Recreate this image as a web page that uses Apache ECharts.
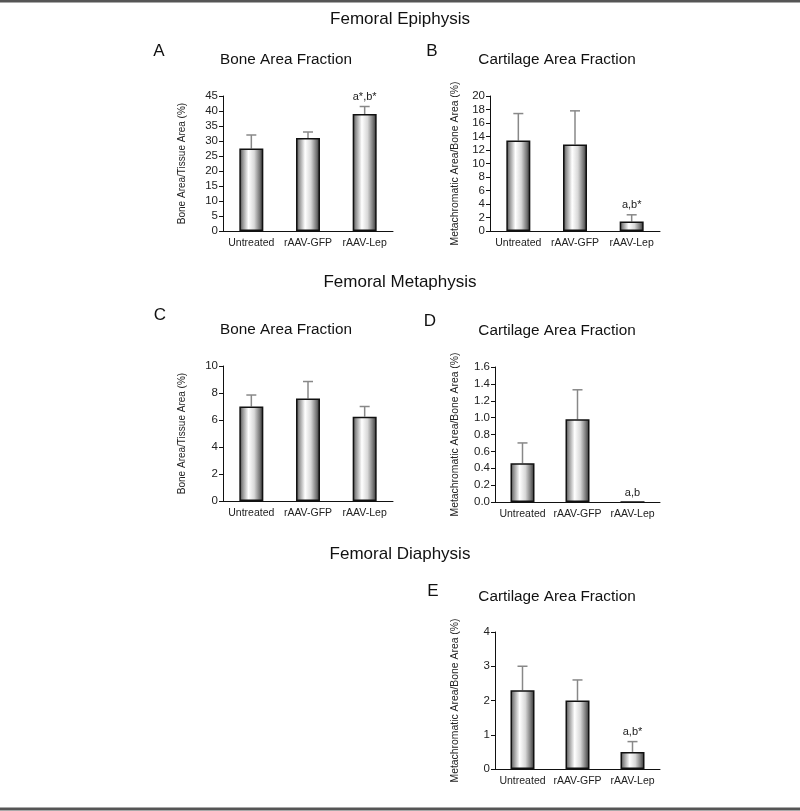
<!DOCTYPE html>
<html>
<head>
<meta charset="utf-8">
<script src="https://cdn.jsdelivr.net/npm/echarts@6/dist/echarts.min.js"></script>
<style>html,body{margin:0;padding:0;background:#fff}#c{width:800px;height:811px}</style>
</head>
<body>
<div id="c"></div>
<script>
// ---- data ----
const categories = ['Untreated', 'rAAV-GFP', 'rAAV-Lep'];

const epiBoneMean = [27.5, 31.0, 39.0];
const epiBoneErr  = [4.5, 2.0, 2.5];
const epiBoneSig  = ['', '', 'a*,b*'];

const epiCartMean = [13.4, 12.8, 1.4];
const epiCartErr  = [4.0, 5.0, 1.0];
const epiCartSig  = ['', '', 'a,b*'];

const metaBoneMean = [7.0, 7.6, 6.25];
const metaBoneErr  = [0.85, 1.25, 0.75];
const metaBoneSig  = ['', '', ''];

const metaCartMean = [0.46, 0.98, 0];
const metaCartErr  = [0.24, 0.35, 0];
const metaCartSig  = ['', '', 'a,b'];

const diaCartMean = [2.3, 2.0, 0.5];
const diaCartErr  = [0.7, 0.6, 0.3];
const diaCartSig  = ['', '', 'a,b*'];

const yTicksA = {max: 45, interval: 5};
const yTicksB = {max: 20, interval: 2};
const yTicksC = {max: 10, interval: 2};
const yTicksD = {max: 1.6, interval: 0.2, decimals: 1};
const yTicksE = {max: 4, interval: 1};

const sectionTitles = ['Femoral Epiphysis', 'Femoral Metaphysis', 'Femoral Diaphysis'];
const panelTitles = ['Bone Area Fraction', 'Cartilage Area Fraction', 'Bone Area Fraction', 'Cartilage Area Fraction', 'Cartilage Area Fraction'];
const panelLetters = ['A', 'B', 'C', 'D', 'E'];
const yNameBone = 'Bone Area/Tissue Area (%)';
const yNameCart = 'Metachromatic Area/Bone Area (%)';

// ---- layout ----
const FONT = '"Liberation Sans", Arial, sans-serif';
const sectionY = [19, 282, 554];
const panels = [
  {mean: epiBoneMean, err: epiBoneErr, sig: epiBoneSig, ticks: yTicksA, yName: yNameBone, nameSize: 10, grid: {left: 223, top: 96, width: 170, height: 135}, gap: 36, title: [286, 60], letter: [159, 51]},
  {mean: epiCartMean, err: epiCartErr, sig: epiCartSig, ticks: yTicksB, yName: yNameCart, nameSize: 10.4, grid: {left: 490, top: 96, width: 170, height: 135}, gap: 30, title: [557, 60], letter: [432, 51]},
  {mean: metaBoneMean, err: metaBoneErr, sig: metaBoneSig, ticks: yTicksC, yName: yNameBone, nameSize: 10, grid: {left: 223, top: 366, width: 170, height: 135}, gap: 36, title: [286, 330], letter: [160, 315]},
  {mean: metaCartMean, err: metaCartErr, sig: metaCartSig, ticks: yTicksD, yName: yNameCart, nameSize: 10.4, grid: {left: 495, top: 367, width: 165, height: 135}, gap: 35, title: [557, 331], letter: [430, 321]},
  {mean: diaCartMean, err: diaCartErr, sig: diaCartSig, ticks: yTicksE, yName: yNameCart, nameSize: 10.4, grid: {left: 495, top: 632, width: 165, height: 137}, gap: 35, title: [557, 597], letter: [433, 591]}
];

const barGradient = new echarts.graphic.LinearGradient(0, 0, 1, 0, [
  {offset: 0, color: '#3a3a3a'},
  {offset: 0.12, color: '#8a8a8a'},
  {offset: 0.38, color: '#ffffff'},
  {offset: 0.62, color: '#d8d8d8'},
  {offset: 0.85, color: '#777777'},
  {offset: 1, color: '#2a2a2a'}
]);

const grid = [], xAxis = [], yAxis = [], series = [];
const graphic = [
  {type: 'rect', shape: {x: 0, y: 0, width: 800, height: 2.5}, style: {fill: '#555'}},
  {type: 'rect', shape: {x: 0, y: 807.5, width: 800, height: 3}, style: {fill: '#555'}}
];

function addText(text, x, y, size) {
  graphic.push({type: 'text', x: x, y: y, silent: true,
    style: {text: text, align: 'center', verticalAlign: 'middle', fontSize: size, fontFamily: FONT, fill: '#111'}});
}

sectionTitles.forEach((t, i) => addText(t, 400, sectionY[i], 17));

panels.forEach((p, k) => {
  grid.push(Object.assign({containLabel: false}, p.grid));
  addText(panelTitles[k], p.title[0], p.title[1], 15.3);
  addText(panelLetters[k], p.letter[0], p.letter[1], 17);
  xAxis.push({
    type: 'category', gridIndex: k, data: categories,
    axisLine: {lineStyle: {color: '#111', width: 1}},
    axisTick: {show: false},
    axisLabel: {fontFamily: FONT, fontSize: 10.5, color: '#222', margin: 7, interval: 0}
  });
  yAxis.push({
    type: 'value', gridIndex: k, min: 0, max: p.ticks.max, interval: p.ticks.interval,
    name: p.yName, nameLocation: 'middle', nameGap: p.gap,
    nameTextStyle: {fontFamily: FONT, fontSize: p.nameSize, color: '#222'},
    axisLine: {show: true, lineStyle: {color: '#111', width: 1}},
    axisTick: {show: true, length: 4, lineStyle: {color: '#111'}},
    splitLine: {show: false},
    axisLabel: {fontFamily: FONT, fontSize: 11.5, color: '#222', margin: 5,
      formatter: v => p.ticks.decimals ? v.toFixed(p.ticks.decimals) : String(v)}
  });
  series.push({
    type: 'bar', xAxisIndex: k, yAxisIndex: k, data: p.mean, barWidth: 24,
    itemStyle: {color: barGradient, borderColor: '#111', borderWidth: 1.5},
    silent: true, animation: false, z: 3
  });
  series.push({
    type: 'custom', xAxisIndex: k, yAxisIndex: k, animation: false, silent: true, z: 2,
    data: p.mean.map((m, i) => [i, m, p.err[i]]),
    renderItem: function (params, api) {
      const i = api.value(0), m = api.value(1), e = api.value(2);
      const p0 = api.coord([i, m]);
      const p1 = api.coord([i, m + e]);
      const children = [];
      if (e > 0) {
        children.push({type: 'line', shape: {x1: p0[0], y1: p0[1], x2: p1[0], y2: p1[1]}, style: {stroke: '#888', lineWidth: 1.5}});
        children.push({type: 'line', shape: {x1: p1[0] - 5, y1: p1[1], x2: p1[0] + 5, y2: p1[1]}, style: {stroke: '#888', lineWidth: 1.5}});
      }
      const s = p.sig[params.dataIndex];
      if (s) {
        children.push({type: 'text', style: {text: s, x: p1[0], y: p1[1] - 4, align: 'center', verticalAlign: 'bottom', fontSize: 11, fontFamily: FONT, fill: '#222'}});
      }
      return {type: 'group', children: children};
    }
  });
});

const chart = echarts.init(document.getElementById('c'), null, {renderer: 'canvas'});
chart.setOption({
  backgroundColor: '#fff',
  animation: false,
  grid: grid,
  xAxis: xAxis,
  yAxis: yAxis,
  series: series,
  graphic: graphic
});
</script>
</body>
</html>
